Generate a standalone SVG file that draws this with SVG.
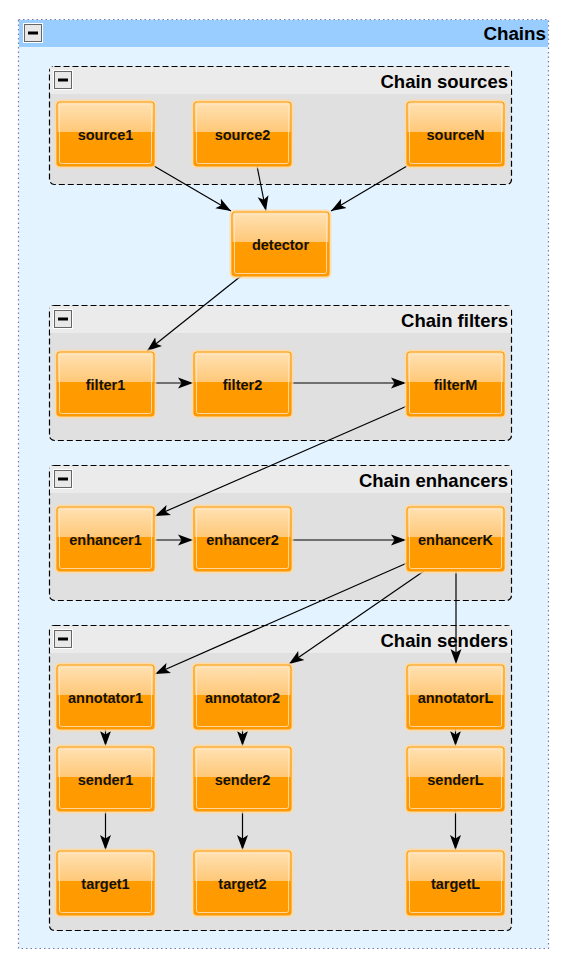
<svg xmlns="http://www.w3.org/2000/svg" width="567" height="969" viewBox="0 0 567 969">
<defs>
<linearGradient id="ng" x1="0" y1="0" x2="0" y2="1">
<stop offset="0" stop-color="#ffe2b4"/>
<stop offset="0.47" stop-color="#ffc878"/>
<stop offset="0.47" stop-color="#ff9c00"/>
<stop offset="1" stop-color="#ff9900"/>
</linearGradient>
<marker id="ah" markerUnits="userSpaceOnUse" markerWidth="16" markerHeight="12" viewBox="-15 -6 16 12" refX="0" refY="0" orient="auto">
<path d="M-15,-5.5 L0,0 L-15,5.5 L-11.5,0 Z" fill="#000"/>
</marker>
<g id="btn">
<rect x="-1" y="-1" width="20" height="20" fill="#fff"/>
<rect x="0.5" y="0.5" width="17" height="17" fill="#e8e8e8" stroke="#666"/>
<rect x="4" y="7.5" width="10" height="3" fill="#000"/>
</g>
</defs>
<style>
.grp{fill:#e0e0e0;stroke:#000;stroke-width:1.2;stroke-dasharray:6,3}
.gh{fill:#ebebeb}
.gt{font-family:"Liberation Sans",Arial,sans-serif;font-weight:bold;font-size:18.5px;text-anchor:end;fill:#000}
.glow{fill:none;stroke:#ffd9a0;stroke-width:3;opacity:0.8}
.nb{fill:url(#ng);stroke:#ff9900;stroke-width:1.2}
.ni{fill:none;stroke:#ffe6c4;stroke-width:1;opacity:0.8}
.nt{font-family:"Liberation Sans",Arial,sans-serif;font-weight:bold;font-size:14.5px;text-anchor:middle;fill:#111}
.e{fill:none;stroke:#000;stroke-width:1.2;marker-end:url(#ah)}
</style>
<g id="chains">
<rect x="18.5" y="19.5" width="530" height="929" fill="#e3f3ff" stroke="#7a7aa8" stroke-width="1.2" stroke-dasharray="1.5,3"/>
<rect x="19" y="20" width="529" height="27" fill="#99ccff"/>
<use href="#btn" x="24" y="24"/>
<text class="gt" x="546" y="40" style="font-size:18.8px">Chains</text>
</g>
<g id="g-sources">
<rect class="grp" x="49.5" y="66.5" width="462" height="118" rx="5"/>
<rect class="gh" x="50" y="67" width="461" height="27"/>
<use href="#btn" x="54" y="71"/>
<text class="gt" x="508" y="88">Chain sources</text>
</g>
<g id="g-filters">
<rect class="grp" x="49.5" y="305.5" width="462" height="135" rx="5"/>
<rect class="gh" x="50" y="306" width="461" height="27"/>
<use href="#btn" x="54" y="310"/>
<text class="gt" x="508" y="327">Chain filters</text>
</g>
<g id="g-enhancers">
<rect class="grp" x="49.5" y="465.5" width="462" height="135" rx="5"/>
<rect class="gh" x="50" y="466" width="461" height="27"/>
<use href="#btn" x="54" y="470"/>
<text class="gt" x="508" y="487">Chain enhancers</text>
</g>
<g id="g-senders">
<rect class="grp" x="49.5" y="625.5" width="462" height="305" rx="5"/>
<rect class="gh" x="50" y="626" width="461" height="27"/>
<use href="#btn" x="54" y="630"/>
<text class="gt" x="508" y="647">Chain senders</text>
</g>
<g id="edges">
<line class="e" x1="154" y1="166" x2="231" y2="211"/>
<line class="e" x1="257" y1="166" x2="266" y2="211"/>
<line class="e" x1="407" y1="166" x2="331" y2="211"/>
<line class="e" x1="241" y1="276" x2="147" y2="351"/>
<line class="e" x1="154" y1="383" x2="193" y2="383"/>
<line class="e" x1="291" y1="383" x2="406" y2="383"/>
<line class="e" x1="407" y1="406" x2="155" y2="516"/>
<line class="e" x1="154" y1="540" x2="193" y2="540"/>
<line class="e" x1="291" y1="540" x2="406" y2="540"/>
<line class="e" x1="407" y1="563" x2="155" y2="674"/>
<line class="e" x1="424" y1="571" x2="289" y2="664"/>
<line class="e" x1="456" y1="571" x2="456" y2="664"/>
<line class="e" x1="105.5" y1="729" x2="105.5" y2="746"/>
<line class="e" x1="242.5" y1="729" x2="242.5" y2="746"/>
<line class="e" x1="455.5" y1="729" x2="455.5" y2="746"/>
<line class="e" x1="105.5" y1="811" x2="105.5" y2="850"/>
<line class="e" x1="242.5" y1="811" x2="242.5" y2="850"/>
<line class="e" x1="455.5" y1="811" x2="455.5" y2="850"/>
</g>
<g id="source1" transform="translate(57,102)"><rect class="glow" x="-1" y="-1" width="99" height="66" rx="4"/><rect class="nb" x="0" y="0" width="97" height="64" rx="3"/><rect class="ni" x="2.5" y="2.5" width="92" height="59" rx="2"/><text class="nt" x="48.5" y="38">source1</text></g>
<g id="source2" transform="translate(194,102)"><rect class="glow" x="-1" y="-1" width="99" height="66" rx="4"/><rect class="nb" x="0" y="0" width="97" height="64" rx="3"/><rect class="ni" x="2.5" y="2.5" width="92" height="59" rx="2"/><text class="nt" x="48.5" y="38">source2</text></g>
<g id="sourceN" transform="translate(407,102)"><rect class="glow" x="-1" y="-1" width="99" height="66" rx="4"/><rect class="nb" x="0" y="0" width="97" height="64" rx="3"/><rect class="ni" x="2.5" y="2.5" width="92" height="59" rx="2"/><text class="nt" x="48.5" y="38">sourceN</text></g>
<g id="detector" transform="translate(232,212)"><rect class="glow" x="-1" y="-1" width="99" height="66" rx="4"/><rect class="nb" x="0" y="0" width="97" height="64" rx="3"/><rect class="ni" x="2.5" y="2.5" width="92" height="59" rx="2"/><text class="nt" x="48.5" y="38">detector</text></g>
<g id="filter1" transform="translate(57,352)"><rect class="glow" x="-1" y="-1" width="99" height="66" rx="4"/><rect class="nb" x="0" y="0" width="97" height="64" rx="3"/><rect class="ni" x="2.5" y="2.5" width="92" height="59" rx="2"/><text class="nt" x="48.5" y="38">filter1</text></g>
<g id="filter2" transform="translate(194,352)"><rect class="glow" x="-1" y="-1" width="99" height="66" rx="4"/><rect class="nb" x="0" y="0" width="97" height="64" rx="3"/><rect class="ni" x="2.5" y="2.5" width="92" height="59" rx="2"/><text class="nt" x="48.5" y="38">filter2</text></g>
<g id="filterM" transform="translate(407,352)"><rect class="glow" x="-1" y="-1" width="99" height="66" rx="4"/><rect class="nb" x="0" y="0" width="97" height="64" rx="3"/><rect class="ni" x="2.5" y="2.5" width="92" height="59" rx="2"/><text class="nt" x="48.5" y="38">filterM</text></g>
<g id="enhancer1" transform="translate(57,507)"><rect class="glow" x="-1" y="-1" width="99" height="66" rx="4"/><rect class="nb" x="0" y="0" width="97" height="64" rx="3"/><rect class="ni" x="2.5" y="2.5" width="92" height="59" rx="2"/><text class="nt" x="48.5" y="38">enhancer1</text></g>
<g id="enhancer2" transform="translate(194,507)"><rect class="glow" x="-1" y="-1" width="99" height="66" rx="4"/><rect class="nb" x="0" y="0" width="97" height="64" rx="3"/><rect class="ni" x="2.5" y="2.5" width="92" height="59" rx="2"/><text class="nt" x="48.5" y="38">enhancer2</text></g>
<g id="enhancerK" transform="translate(407,507)"><rect class="glow" x="-1" y="-1" width="99" height="66" rx="4"/><rect class="nb" x="0" y="0" width="97" height="64" rx="3"/><rect class="ni" x="2.5" y="2.5" width="92" height="59" rx="2"/><text class="nt" x="48.5" y="38">enhancerK</text></g>
<g id="annotator1" transform="translate(57,665)"><rect class="glow" x="-1" y="-1" width="99" height="66" rx="4"/><rect class="nb" x="0" y="0" width="97" height="64" rx="3"/><rect class="ni" x="2.5" y="2.5" width="92" height="59" rx="2"/><text class="nt" x="48.5" y="38">annotator1</text></g>
<g id="annotator2" transform="translate(194,665)"><rect class="glow" x="-1" y="-1" width="99" height="66" rx="4"/><rect class="nb" x="0" y="0" width="97" height="64" rx="3"/><rect class="ni" x="2.5" y="2.5" width="92" height="59" rx="2"/><text class="nt" x="48.5" y="38">annotator2</text></g>
<g id="annotatorL" transform="translate(407,665)"><rect class="glow" x="-1" y="-1" width="99" height="66" rx="4"/><rect class="nb" x="0" y="0" width="97" height="64" rx="3"/><rect class="ni" x="2.5" y="2.5" width="92" height="59" rx="2"/><text class="nt" x="48.5" y="38">annotatorL</text></g>
<g id="sender1" transform="translate(57,747)"><rect class="glow" x="-1" y="-1" width="99" height="66" rx="4"/><rect class="nb" x="0" y="0" width="97" height="64" rx="3"/><rect class="ni" x="2.5" y="2.5" width="92" height="59" rx="2"/><text class="nt" x="48.5" y="38">sender1</text></g>
<g id="sender2" transform="translate(194,747)"><rect class="glow" x="-1" y="-1" width="99" height="66" rx="4"/><rect class="nb" x="0" y="0" width="97" height="64" rx="3"/><rect class="ni" x="2.5" y="2.5" width="92" height="59" rx="2"/><text class="nt" x="48.5" y="38">sender2</text></g>
<g id="senderL" transform="translate(407,747)"><rect class="glow" x="-1" y="-1" width="99" height="66" rx="4"/><rect class="nb" x="0" y="0" width="97" height="64" rx="3"/><rect class="ni" x="2.5" y="2.5" width="92" height="59" rx="2"/><text class="nt" x="48.5" y="38">senderL</text></g>
<g id="target1" transform="translate(57,851)"><rect class="glow" x="-1" y="-1" width="99" height="66" rx="4"/><rect class="nb" x="0" y="0" width="97" height="64" rx="3"/><rect class="ni" x="2.5" y="2.5" width="92" height="59" rx="2"/><text class="nt" x="48.5" y="38">target1</text></g>
<g id="target2" transform="translate(194,851)"><rect class="glow" x="-1" y="-1" width="99" height="66" rx="4"/><rect class="nb" x="0" y="0" width="97" height="64" rx="3"/><rect class="ni" x="2.5" y="2.5" width="92" height="59" rx="2"/><text class="nt" x="48.5" y="38">target2</text></g>
<g id="targetL" transform="translate(407,851)"><rect class="glow" x="-1" y="-1" width="99" height="66" rx="4"/><rect class="nb" x="0" y="0" width="97" height="64" rx="3"/><rect class="ni" x="2.5" y="2.5" width="92" height="59" rx="2"/><text class="nt" x="48.5" y="38">targetL</text></g>
</svg>
